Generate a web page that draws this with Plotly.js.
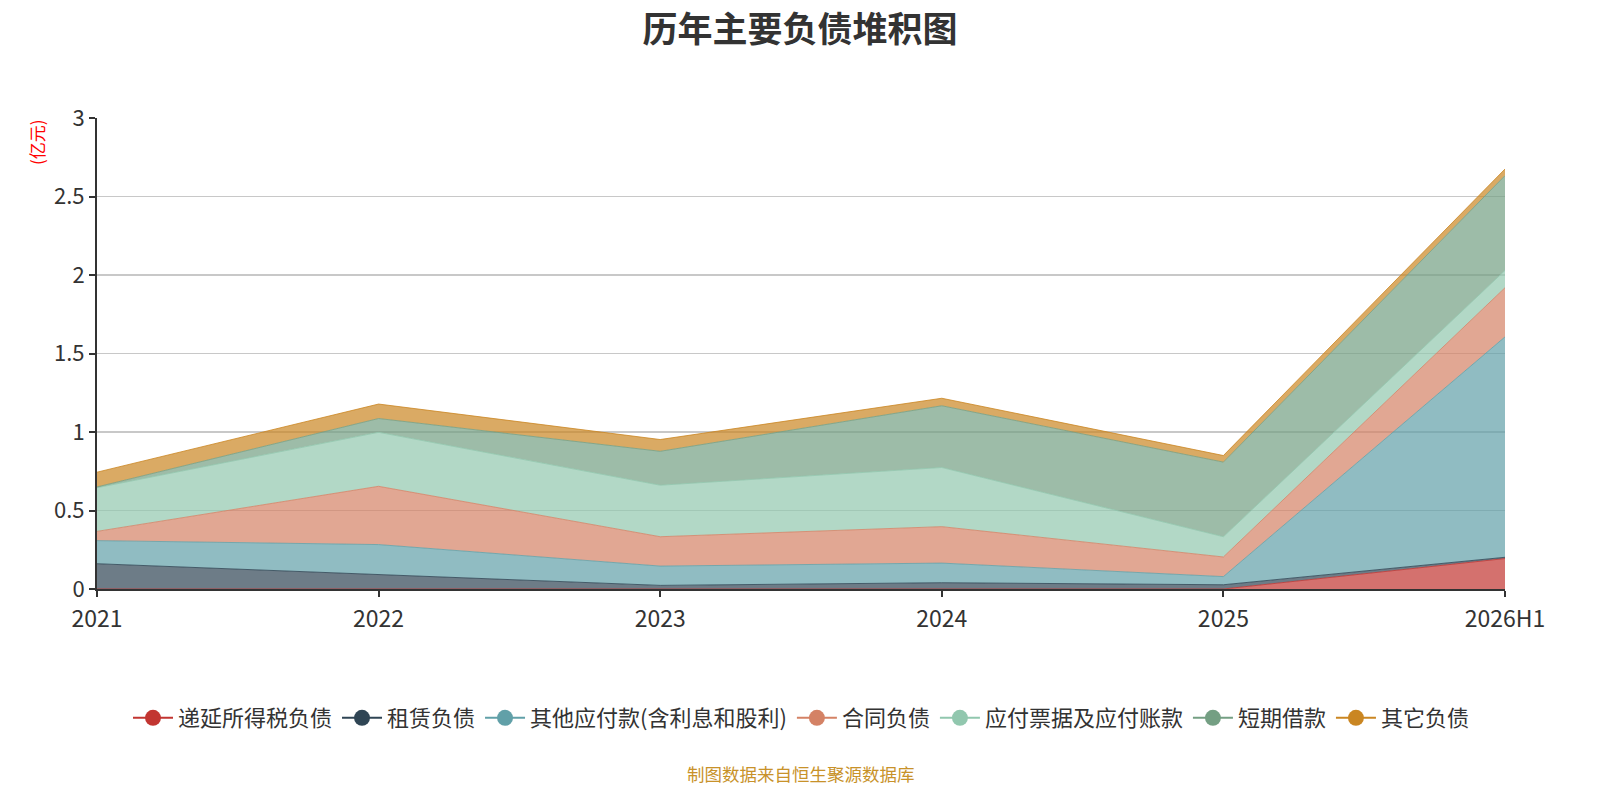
<!DOCTYPE html>
<html>
<head>
<meta charset="utf-8">
<script src="https://cdn.plot.ly/plotly-3.0.1.min.js"></script>
<style>
  html, body { margin: 0; padding: 0; background: #fff; }
  #chart { width: 1600px; height: 800px; }
</style>
</head>
<body>
<div id="chart"></div>
<script>
// 年份
const years = ['2021', '2022', '2023', '2024', '2025', '2026H1'];

// 各项负债（亿元），读图估计
const deferredTax = [0, 0, 0, 0, 0, 0.194];
const leaseLiab = [0.161, 0.090, 0.023, 0.040, 0.027, 0.008];
const otherPayables = [0.147, 0.193, 0.123, 0.125, 0.052, 1.404];
const contractLiab = [0.059, 0.371, 0.187, 0.232, 0.125, 0.313];
const notesPayable = [0.278, 0.344, 0.328, 0.377, 0.129, 0.110];
const shortLoans = [0.005, 0.088, 0.216, 0.393, 0.475, 0.604];
const otherLiab = [0.094, 0.092, 0.075, 0.048, 0.042, 0.042];

const names = ['递延所得税负债', '租赁负债', '其他应付款(含利息和股利)', '合同负债',
               '应付票据及应付账款', '短期借款', '其它负债'];
const colors = ['#c23531', '#2f4554', '#61a0a8', '#d48265', '#91c7ae', '#749f83', '#ca8622'];
const series = [deferredTax, leaseLiab, otherPayables, contractLiab, notesPayable, shortLoans, otherLiab];

const font = '"Noto Sans CJK SC", "Noto Sans", sans-serif';

function rgba(hex, a) {
  const n = parseInt(hex.slice(1), 16);
  return `rgba(${(n >> 16) & 255},${(n >> 8) & 255},${n & 255},${a})`;
}

const traces = [];
series.forEach((vals, i) => {
  traces.push({
    x: years,
    y: vals,
    type: 'scatter',
    mode: 'lines',
    stackgroup: 'one',
    name: names[i],
    line: { color: rgba(colors[i], 0.8), width: 1 },
    fillcolor: rgba(colors[i], 0.7),
    showlegend: false,
    hoverinfo: 'x+y+name'
  });
});
// 图例用的空系列
series.forEach((vals, i) => {
  traces.push({
    x: [null],
    y: [null],
    type: 'scatter',
    mode: 'lines+markers',
    name: names[i],
    line: { color: colors[i], width: 2 },
    marker: { color: colors[i], size: 22, symbol: 'circle' },
    showlegend: true,
    hoverinfo: 'skip'
  });
});

const layout = {
  width: 1600,
  height: 800,
  margin: { l: 97, r: 95, t: 118, b: 211, pad: 0 },
  paper_bgcolor: '#fff',
  plot_bgcolor: '#fff',
  font: { family: font, color: '#333' },
  title: {
    text: '<b>历年主要负债堆积图</b>',
    font: { family: font, size: 35, color: '#333' },
    x: 0.5,
    xanchor: 'center',
    y: 0.963,
    yanchor: 'middle'
  },
  xaxis: {
    type: 'category',
    range: [0, 5],
    showgrid: false,
    showline: true,
    linecolor: '#333',
    linewidth: 2,
    ticks: 'outside',
    ticklen: 6,
    tickwidth: 2,
    tickcolor: '#333',
    ticklabelstandoff: 2,
    tickfont: { family: font, size: 23, color: '#333' },
    zeroline: false,
    fixedrange: true
  },
  yaxis: {
    range: [0, 3],
    dtick: 0.5,
    showgrid: true,
    gridcolor: '#c8c8c8',
    gridwidth: 1.5,
    showline: true,
    linecolor: '#333',
    linewidth: 2,
    ticks: 'outside',
    ticklen: 6,
    tickwidth: 2,
    tickcolor: '#333',
    tickfont: { family: font, size: 22, color: '#333' },
    zeroline: false,
    fixedrange: true
  },
  legend: {
    orientation: 'h',
    x: 0.5,
    xanchor: 'center',
    y: -0.274,
    yanchor: 'middle',
    font: { family: font, size: 22, color: '#333' },
    itemwidth: 40,
    traceorder: 'normal'
  },
  annotations: [
    {
      text: '(亿元)',
      xref: 'paper', yref: 'paper',
      x: -0.043, y: 0.95,
      xanchor: 'center', yanchor: 'middle',
      textangle: -90,
      showarrow: false,
      font: { family: font, size: 17, color: '#ff0000' }
    },
    {
      text: '制图数据来自恒生聚源数据库',
      xref: 'paper', yref: 'paper',
      x: 0.5, y: -0.392,
      xanchor: 'center', yanchor: 'middle',
      showarrow: false,
      font: { family: font, size: 17.5, color: '#c8922a' }
    }
  ],
  showlegend: true
};

Plotly.newPlot('chart', traces, layout, { displayModeBar: false, staticPlot: true });
</script>
</body>
</html>
